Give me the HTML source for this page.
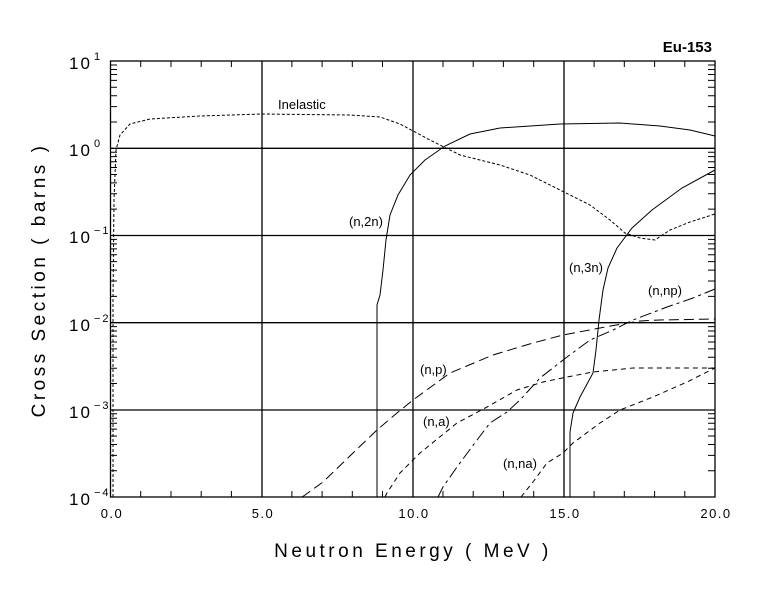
<!DOCTYPE html>
<html><head><meta charset="utf-8"><style>
body{margin:0;background:#fff}
svg{display:block}
text{font-family:"Liberation Sans",sans-serif;fill:#000}
</style></head><body>
<svg width="780" height="590" viewBox="0 0 780 590" xmlns="http://www.w3.org/2000/svg">
<defs>
<g id="dec" stroke="#000" stroke-width="1">
<path d="M110.5 -26.25h6.5M110.5 -41.6h6.5M110.5 -52.5h6.5M110.5 -60.95h6.5M110.5 -67.85h6.5M110.5 -73.7h6.5M110.5 -78.75h6.5M110.5 -83.2h6.5"/>
<path d="M708 -26.25h7M708 -41.6h7M708 -52.5h7M708 -60.95h7M708 -67.85h7M708 -73.7h7M708 -78.75h7M708 -83.2h7"/>
</g>
</defs>
<g stroke="#000" stroke-width="1.3" fill="none">
<rect x="110.5" y="61" width="604.5" height="436"/>
<line x1="262" y1="61" x2="262" y2="497"/>
<line x1="413" y1="61" x2="413" y2="497"/>
<line x1="564" y1="61" x2="564" y2="497"/>
<line x1="110.5" y1="148.3" x2="715" y2="148.3"/>
<line x1="110.5" y1="235.5" x2="715" y2="235.5"/>
<line x1="110.5" y1="322.7" x2="715" y2="322.7"/>
<line x1="110.5" y1="410" x2="715" y2="410"/>
</g>
<use href="#dec" transform="translate(0,497)"/>
<use href="#dec" transform="translate(0,409.8)"/>
<use href="#dec" transform="translate(0,322.6)"/>
<use href="#dec" transform="translate(0,235.4)"/>
<use href="#dec" transform="translate(0,148.2)"/>
<path stroke="#000" stroke-width="1" d="M140.7 497v-6M171 497v-6M201.2 497v-6M231.4 497v-6M291.9 497v-6M322.1 497v-6M352.3 497v-6M382.5 497v-6M443 497v-6M473.2 497v-6M503.4 497v-6M533.7 497v-6M594.1 497v-6M624.3 497v-6M654.6 497v-6M684.8 497v-6
M140.7 61v6M171 61v6M201.2 61v6M231.4 61v6M291.9 61v6M322.1 61v6M352.3 61v6M382.5 61v6M443 61v6M473.2 61v6M503.4 61v6M533.7 61v6M594.1 61v6M624.3 61v6M654.6 61v6M684.8 61v6"/>
<g fill="none" stroke="#000" stroke-width="1">
<polyline stroke-dasharray="3,2" points="113,497 113,300 114,200 116,150 120,135 130,124 150,119 200,116 262,114 350,115 380,117 400,124 430,140 460,155 500,165 530,175 560,190 590,205 610,220 625,233 640,238 655,240 670,230 690,222 715,214"/>
<polyline points="377,497 377,305 380,295 383,270 386,240 390,215 398,195 410,175 425,160 445,146 470,134 500,128 560,124 620,123 660,126 690,130 715,136"/>
<polyline points="570,497 570,432 573,413 580,397 593,373 596,350 599,320 603,290 608,268 617,248 632,228 652,210 682,188 715,170"/>
<polyline stroke-dasharray="10,5" points="302,497 305,495 323,482 353,453 377,430 397,413 413,400 450,373 493,355 533,343 563,335 600,328 627,323 640,321 660,320 715,319"/>
<polyline stroke-dasharray="12,4,3,4" points="438,497 443,487 457,467 477,440 490,423 507,412 520,400 540,378 567,357 590,340 613,330 633,320 667,307 693,298 715,289"/>
<polyline stroke-dasharray="5,4" points="385,497 387,493 400,473 420,453 457,423 487,407 517,390 543,382 567,377 593,372 633,368 667,368 715,368"/>
<polyline stroke-dasharray="5,4" points="521,497 533,482 547,463 563,453 573,443 600,423 620,410 653,397 687,382 715,368"/>
</g>
<g font-size="13">
<text x="278" y="109">Inelastic</text>
<text x="349" y="226">(n,2n)</text>
<text x="569" y="272">(n,3n)</text>
<text x="648" y="295">(n,np)</text>
<text x="420" y="374">(n,p)</text>
<text x="423" y="426">(n,a)</text>
<text x="503" y="468">(n,na)</text>
</g>
<text x="712" y="52" font-size="15" font-weight="bold" text-anchor="end">Eu-153</text>
<g font-size="17" letter-spacing="2">
<text x="69" y="69">10</text><text x="94" y="60" font-size="11">1</text>
<text x="69" y="156">10</text><text x="94" y="147" font-size="11">0</text>
<text x="69" y="243">10</text><text x="94" y="234" font-size="11">−1</text>
<text x="69" y="331">10</text><text x="94" y="322" font-size="11">−2</text>
<text x="69" y="418">10</text><text x="94" y="409" font-size="11">−3</text>
<text x="69" y="505">10</text><text x="94" y="496" font-size="11">−4</text>
</g>
<g font-size="13" letter-spacing="1.5" text-anchor="middle">
<text x="112" y="518">0.0</text>
<text x="263" y="518">5.0</text>
<text x="414" y="518">10.0</text>
<text x="565" y="518">15.0</text>
<text x="716" y="518">20.0</text>
</g>
<text x="413" y="557" font-size="19" letter-spacing="3.5" text-anchor="middle">Neutron Energy ( MeV )</text>
<text transform="translate(45,280) rotate(-90)" font-size="19" letter-spacing="3.5" text-anchor="middle">Cross Section ( barns )</text>
</svg>
</body></html>
